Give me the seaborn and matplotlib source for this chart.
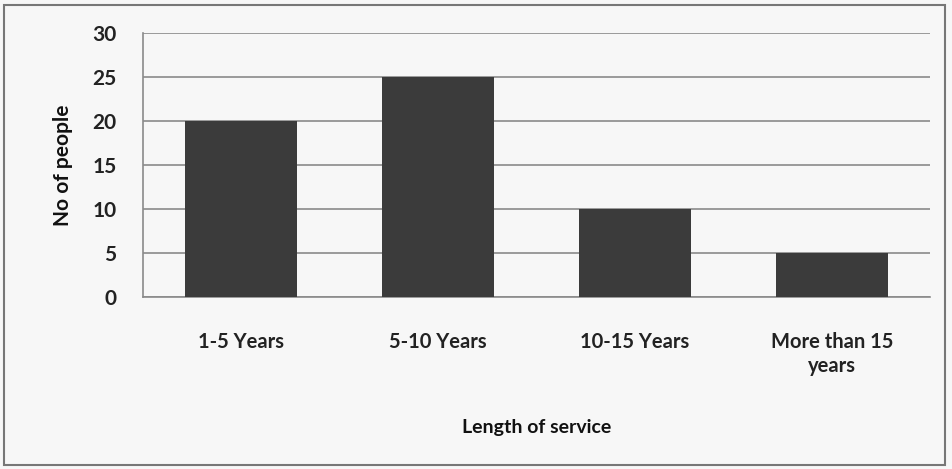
import matplotlib
matplotlib.use("Agg")
import matplotlib.pyplot as plt
import seaborn as sns
import pandas as pd
from matplotlib.patches import Rectangle

categories = ["1-5 Years", "5-10 Years", "10-15 Years", "More than 15\nyears"]
values = [20, 25, 10, 5]
yticks = [0, 5, 10, 15, 20, 25, 30]

sns.set_theme(style="white")
plt.rcParams["font.family"] = ["Lato", "DejaVu Sans"]

df = pd.DataFrame({"cat": categories, "val": values})

fig = plt.figure(figsize=(9.53, 4.69), dpi=100, facecolor="#f7f7f7")
ax = fig.add_axes([0.150, 0.367, 0.826, 0.563])
ax.set_facecolor("#f7f7f7")

sns.barplot(data=df, x="cat", y="val", color="#3b3b3b", width=0.57,
            saturation=1, ax=ax, zorder=3, edgecolor="#3b3b3b", linewidth=0)

ax.set_ylim(0, 30)
ax.set_yticks(yticks)
ax.set_xlim(-0.5, 3.5)
ax.yaxis.grid(True, color="#8a8a8a", linewidth=1.2, zorder=0)
ax.set_axisbelow(True)
for s in ["top", "right"]:
    ax.spines[s].set_visible(False)
for s in ["left", "bottom"]:
    ax.spines[s].set_color("#8a8a8a")
    ax.spines[s].set_linewidth(1.2)
ax.tick_params(axis="y", length=8, width=1.2, color="#8a8a8a", pad=11,
               labelsize=15, labelcolor="#222222")
ax.tick_params(axis="x", length=0, pad=25, labelsize=14.5, labelcolor="#222222")
for lbl in ax.get_yticklabels() + ax.get_xticklabels():
    lbl.set_fontweight("bold")
for lbl in ax.get_xticklabels():
    lbl.set_linespacing(1.3)
    lbl.set_verticalalignment("top")
ax.set_ylabel("No of people", fontsize=15, fontweight="bold", labelpad=14,
              color="#111111")
ax.set_xlabel("Length of service", fontsize=14, fontweight="bold", labelpad=31,
              color="#111111")

fig.patches.append(Rectangle((0.004, 0.008), 0.988, 0.982, transform=fig.transFigure,
                             fill=False, edgecolor="#777777", linewidth=1.5))

fig.savefig("out.png", dpi=100, facecolor=fig.get_facecolor())
